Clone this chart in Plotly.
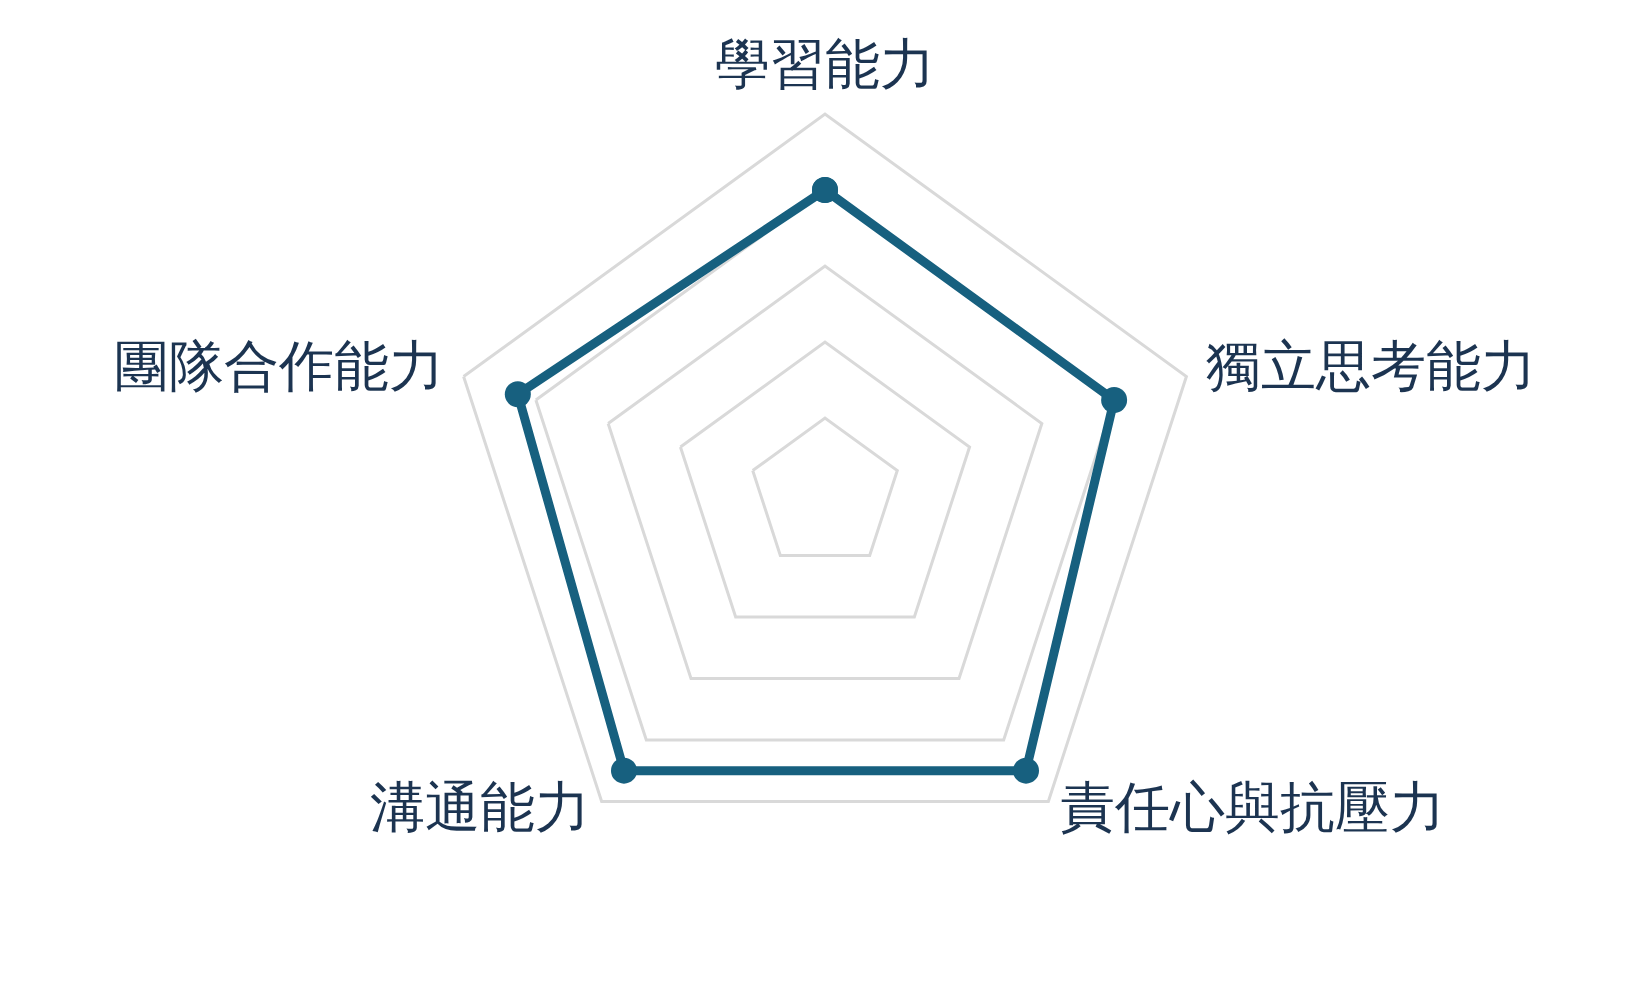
import plotly.graph_objects as go

categories = ["學習能力", "獨立思考能力", "責任心與抗壓力", "溝通能力", "團隊合作能力"]
values = [80, 80, 90, 90, 85]
tick_vals = [20, 40, 60, 80, 100]
# extra empty lines after a label nudge its position (plotly anchors multi-line labels)
label_breaks = [0, 0, 7, 7, 0]

tick_text = [c + "<br>&nbsp;" * n for c, n in zip(categories, label_breaks)]

r = values + values[:1]
theta = categories + categories[:1]

fig = go.Figure()
fig.add_trace(go.Scatterpolar(
    r=r, theta=theta,
    mode="lines+markers",
    line=dict(color="#17607f", width=9),
    marker=dict(color="#17607f", size=26),
    fill="none",
    showlegend=False,
))

fig.update_layout(
    width=1650, height=990,
    paper_bgcolor="white",
    plot_bgcolor="white",
    margin=dict(l=80, r=80, t=114, b=116),
    font=dict(family="serif", color="#1c3451"),
    polar=dict(
        bgcolor="white",
        gridshape="linear",
        radialaxis=dict(
            range=[0, 100], tickvals=tick_vals, showticklabels=False,
            showline=False, ticks="", gridcolor="#d9d9d9", gridwidth=3,
        ),
        angularaxis=dict(
            direction="clockwise", rotation=90,
            showline=True, linecolor="#d9d9d9", linewidth=3,
            showgrid=False,
            ticks="outside", ticklen=8, tickcolor="rgba(0,0,0,0)",
            tickmode="array", tickvals=categories, ticktext=tick_text,
            tickfont=dict(size=55, family="serif", color="#1c3451"),
        ),
    ),
)

fig.write_html("out.html")
